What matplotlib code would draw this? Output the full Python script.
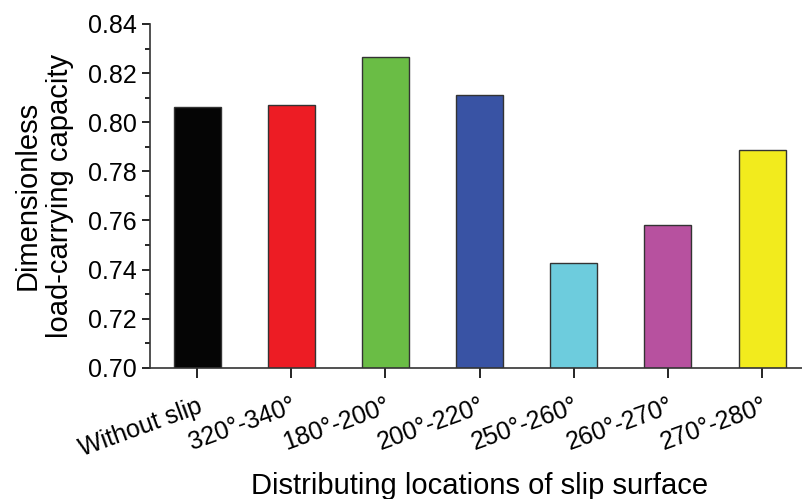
import matplotlib
matplotlib.use("Agg")
import matplotlib.pyplot as plt
from matplotlib.ticker import MultipleLocator

plt.rcParams['font.family'] = ['Liberation Sans', 'DejaVu Sans']

# Daten
kategorien = ["Without slip", "320°-340°", "180°-200°", "200°-220°",
              "250°-260°", "260°-270°", "270°-280°"]
werte = [0.806, 0.807, 0.8265, 0.8112, 0.7425, 0.7583, 0.7886]
farben = ["#050505", "#ED1C24", "#6ABD45", "#3953A4", "#6DCCDD", "#B7519F", "#F2EB1D"]

fig = plt.figure(figsize=(8.02, 4.99), dpi=100)
ax = fig.add_axes([0.187, 0.263, 0.822, 0.689])

x = range(len(kategorien))
ax.bar(x, werte, width=0.5, color=farben, edgecolor="#333333", linewidth=1.0)

ax.set_ylim(0.70, 0.84)
ax.set_xlim(-0.5, 6.5)
ax.yaxis.set_major_locator(MultipleLocator(0.02))
ax.yaxis.set_minor_locator(MultipleLocator(0.01))
ax.yaxis.set_major_formatter(matplotlib.ticker.FormatStrFormatter("%.2f"))

ax.set_xticks(list(x))
ax.set_xticklabels(kategorien, rotation=20, ha="right", rotation_mode="anchor", fontsize=18)
ax.tick_params(axis="y", labelsize=18, direction="out", length=6, width=1.2)
ax.tick_params(axis="y", which="minor", length=3.5, width=1.2)
ax.tick_params(axis="x", direction="out", length=7, width=1.2, pad=12)

for s in ["top", "right"]:
    ax.spines[s].set_visible(False)
for s in ["left", "bottom"]:
    ax.spines[s].set_linewidth(1.2)
    ax.spines[s].set_color("#333333")

ax.set_xlabel("Distributing locations of slip surface", fontsize=21, labelpad=8)
ax.set_ylabel("Dimensionless\nload-carrying capacity", fontsize=21, labelpad=10)

plt.savefig("out.png", dpi=100)
plt.close()
